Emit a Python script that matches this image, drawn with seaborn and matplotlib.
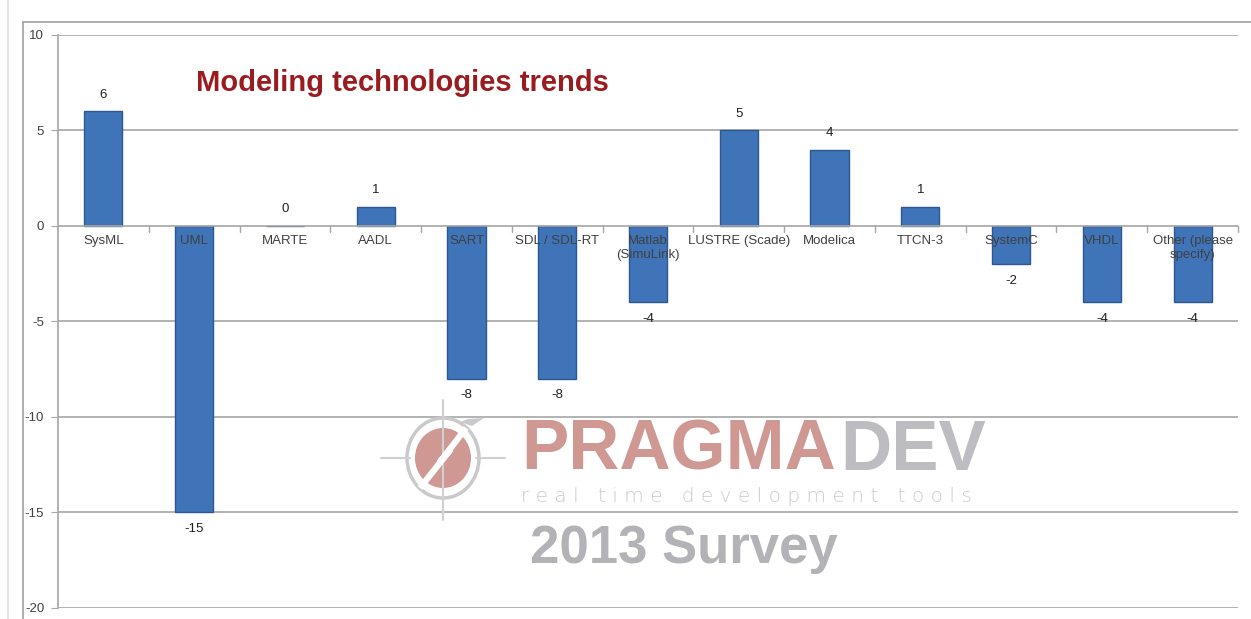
import matplotlib
matplotlib.use("Agg")
import matplotlib.pyplot as plt
import matplotlib.patches as mpatches
from matplotlib.lines import Line2D
import seaborn as sns
import numpy as np
import pandas as pd

# ==================== data ====================
CATEGORIES = ["SysML", "UML", "MARTE", "AADL", "SART", "SDL / SDL-RT",
              "Matlab (SimuLink)", "LUSTRE (Scade)", "Modelica", "TTCN-3",
              "SystemC", "VHDL", "Other (please specify)"]
TICK_LABELS = ["SysML", "UML", "MARTE", "AADL", "SART", "SDL / SDL-RT",
               "Matlab\n(SimuLink)", "LUSTRE (Scade)", "Modelica", "TTCN-3",
               "SystemC", "VHDL", "Other (please\nspecify)"]
TREND = [6, -15, 0, 1, -8, -8, -4, 5, 4, 1, -2, -4, -4]
Y_TICKS = [10, 5, 0, -5, -10, -15, -20]

TITLE = "Modeling technologies trends"
BAR_COLOR = "#3f74b8"
EDGE_COLOR = "#2c578f"
GRID_COLOR = "#a6a6a6"
TEXT_COLOR = "#404040"

df = pd.DataFrame({"tech": CATEGORIES, "trend": TREND})

sns.set_style("white")
plt.rcParams["font.family"] = ["Liberation Sans", "DejaVu Sans"]

fig = plt.figure(figsize=(12.51, 6.19), dpi=100)
ax = fig.add_axes([0.0464, 0.0178, 0.9432, 0.9257])

sns.barplot(data=df, x="tech", y="trend", color=BAR_COLOR, width=0.42,
            edgecolor=EDGE_COLOR, linewidth=1.0, saturation=1, ax=ax, zorder=3)

ax.set_ylim(min(Y_TICKS), max(Y_TICKS))
ax.set_xlim(-0.5, len(CATEGORIES) - 0.5)
ax.set_yticks(Y_TICKS)
ax.set_yticklabels([str(v) for v in Y_TICKS], fontsize=9.5, color=TEXT_COLOR)
ax.tick_params(axis="y", length=5, color=GRID_COLOR, pad=5, left=True)
ax.set_xticks([])
ax.set_xlabel("")
ax.set_ylabel("")

for v in Y_TICKS:
    if v != 0:
        ax.axhline(v, color=GRID_COLOR, lw=1.2, zorder=1)
ax.axhline(0, color=GRID_COLOR, lw=1.2, zorder=4)

# small tick marks on the category axis
for i in range(1, len(CATEGORIES) + 1):
    ax.plot([i - 0.5, i - 0.5], [0, -0.3], color=GRID_COLOR, lw=1, zorder=4,
            clip_on=False)

for s in ["top", "right", "bottom"]:
    ax.spines[s].set_visible(False)
ax.spines["left"].set_color(GRID_COLOR)
ax.spines["left"].set_linewidth(1.2)

# category labels just under the zero line
for i, lab in enumerate(TICK_LABELS):
    ax.text(i, -0.45, lab, ha="center", va="top", fontsize=9.5,
            color=TEXT_COLOR, zorder=5, linespacing=1.25)

# value labels
for bar, v in zip(ax.patches, TREND):
    x = bar.get_x() + bar.get_width() / 2
    if v >= 0:
        ax.text(x, v + 0.55, str(v), ha="center", va="bottom", fontsize=9.5,
                color="#202020")
    else:
        ax.text(x, v - 0.55, str(v), ha="center", va="top", fontsize=9.5,
                color="#202020")

# title
fig.text(0.157, 0.866, TITLE, fontsize=21, fontweight="bold",
         color="#9b1c1f", ha="left", va="center")

# outer frame
fig.add_artist(Line2D([23 / 1251, 1], [1 - 22 / 619, 1 - 22 / 619],
                      color="#a0a0a0", lw=1.2))
fig.add_artist(Line2D([23 / 1251, 23 / 1251], [0, 1 - 22 / 619],
                      color="#a0a0a0", lw=1.2))
fig.add_artist(Line2D([8 / 1251, 8 / 1251], [0, 1], color="#e6e6e6", lw=1.5))

# ==================== watermark ====================
def fx(px):
    return px / 1251


def fy(py):
    return 1 - py / 619


WM_GRAY = "#bdbdc1"
WM_RED = "#cf9893"
cx, cy = 443, 458
fig.add_artist(Line2D([fx(cx), fx(cx)], [fy(400), fy(520)], color="#d0d0d0", lw=1.5))
fig.add_artist(Line2D([fx(381), fx(410)], [fy(cy), fy(cy)], color="#d0d0d0", lw=1.5))
fig.add_artist(Line2D([fx(476), fx(505)], [fy(cy), fy(cy)], color="#d0d0d0", lw=1.5))
fig.add_artist(mpatches.Ellipse((fx(cx), fy(cy)), 2 * 36 / 1251, 2 * 40 / 619,
                                facecolor="white", edgecolor="#c9c9cc", lw=2.5))
fig.add_artist(mpatches.Ellipse((fx(cx), fy(cy)), 2 * 28 / 1251, 2 * 30 / 619,
                                facecolor=WM_RED, edgecolor="none"))
fig.add_artist(mpatches.Polygon([[fx(460), fy(422)], [fx(468), fy(419)],
                                 [fx(484), fy(418)], [fx(472), fy(426)]],
                                closed=True, facecolor="#c9c9cc", edgecolor="none"))
fig.add_artist(Line2D([fx(420), fx(450), fx(440), fx(466)],
                      [fy(488), fy(450), fy(462), fy(428)],
                      color="white", lw=4.5, solid_capstyle="butt"))

fig.text(fx(521), fy(452), "PRAGMA", fontsize=51, fontweight="bold",
         color=WM_RED, ha="left", va="center")
fig.text(fx(986), fy(452), "DEV", fontsize=51, fontweight="bold",
         color=WM_GRAY, ha="right", va="center")
fig.text(fx(746), fy(497), "r e a l   t i m e   d e v e l o p m e n t   t o o l s",
         fontsize=14.5, color="#cbcbcb", ha="center", va="center",
         family="DejaVu Sans", fontweight="light")
fig.text(fx(684), fy(549), "2013 Survey", fontsize=38, fontweight="bold",
         color="#b3b3b7", ha="center", va="center")

fig.savefig("out.png", dpi=100)
